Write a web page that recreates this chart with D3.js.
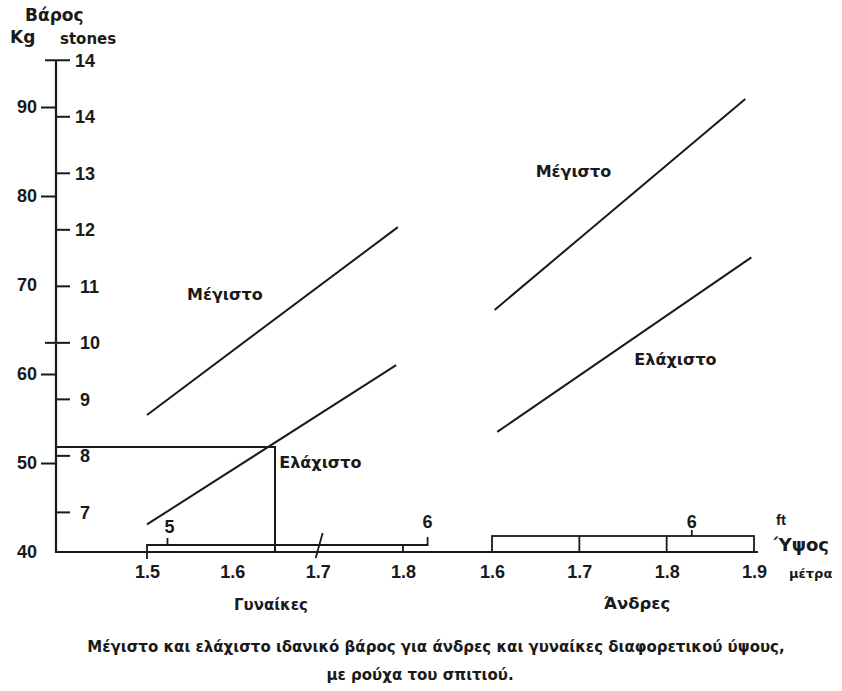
<!DOCTYPE html>
<html><head><meta charset="utf-8">
<script src="https://cdn.jsdelivr.net/npm/d3@7"></script>
<style>
body{margin:0;background:#fff;}
svg{display:block;}
text{fill:#1a1a1a;}
</style></head>
<body>
<script>
// ---- data ----
const kgTicks = [40, 50, 60, 70, 80, 90];
const kgTickMarks = [50, 60, 80, 90];
const stoneTicks = [7, 8, 9, 10, 11, 12, 13, 14, 15];
const stoneLabels = ["7", "8", "9", "10", "11", "12", "13", "14", "14"];
const womenHeightTicks = [1.5, 1.6, 1.7, 1.8];
const menHeightTicks = [1.6, 1.7, 1.8, 1.9];
const womenFeet = [5, 6];
const menFeet = [6];

const womenMaxH = [1.5, 1.794], womenMaxKg = [55.4, 76.5];
const womenMinH = [1.5, 1.792], womenMinKg = [43.1, 61.0];
const menMaxH = [1.603, 1.890], menMaxKg = [67.2, 90.9];
const menMinH = [1.606, 1.897], menMinKg = [53.5, 73.1];
const examplePoint = {h: 1.65, kg: 51.8};

const KG_PER_STONE = 6.35, M_PER_FT = 0.3048;

// ---- layout ----
const W = 842, H = 691;
const svg = d3.select("body").append("svg").attr("width", W).attr("height", H);
const y = d3.scaleLinear().domain([40, 90]).range([552, 107]);
const xW = d3.scaleLinear().domain([1.5, 1.8]).range([147, 403]);
const xM = d3.scaleLinear().domain([1.6, 1.9]).range([492, 754]);
const axisX = 56, baseY = y(40);
const ink = "#1a1a1a";
const numFont = "'Liberation Sans', Arial, sans-serif";
const grFont = "'DejaVu Sans', sans-serif";

// axis lines
svg.append("path")
  .attr("d", `M${axisX},${y(15 * KG_PER_STONE)}V${baseY}H${xM(1.9) + 4}`)
  .attr("fill", "none").attr("stroke", ink).attr("stroke-width", 2.2);

// kg axis (left)
const gKg = svg.append("g").attr("transform", `translate(${axisX},0)`)
  .call(d3.axisLeft(y).tickValues(kgTicks).tickSize(15).tickPadding(4).tickFormat(d3.format("d")));
gKg.select(".domain").remove();
gKg.selectAll(".tick line").attr("stroke", ink).attr("stroke-width", 2)
  .attr("display", d => kgTickMarks.includes(d) ? null : "none");
gKg.selectAll(".tick text").attr("font-family", numFont).attr("font-weight", "bold")
  .attr("font-size", 18).attr("fill", ink);

// stones axis (right of same line)
const yStone = d => y(d * KG_PER_STONE);
const gSt = svg.append("g").attr("transform", `translate(${axisX},0)`);
stoneTicks.forEach((s, i) => {
  const g = gSt.append("g").attr("transform", `translate(0,${yStone(s)})`);
  g.append("line").attr("x1", (s === 10 || s === 15) ? -11 : -1).attr("x2", 14)
    .attr("stroke", ink).attr("stroke-width", 2);
  g.append("text").attr("x", 17 + (i < 5 ? 7 : 2)).attr("dy", "0.36em")
    .attr("font-family", numFont).attr("font-weight", "bold").attr("font-size", 18)
    .attr("fill", ink).text(stoneLabels[i]);
});

// axis titles
const title = (x, yy, t, size, anchor = "start", fam = grFont) =>
  svg.append("text").attr("x", x).attr("y", yy).attr("font-family", fam)
    .attr("font-weight", "bold").attr("font-size", size).attr("text-anchor", anchor).text(t);
title(25, 21, "Βάρος", 17);
title(10, 43, "Kg", 17);
title(60, 44, "stones", 15);

// height axis labels
const gXW = svg.append("g").attr("transform", `translate(0,${baseY})`)
  .call(d3.axisBottom(xW).tickValues(womenHeightTicks).tickSize(0).tickPadding(13).tickFormat(d3.format(".1f")));
gXW.select(".domain").remove();
const gXM = svg.append("g").attr("transform", `translate(0,${baseY})`)
  .call(d3.axisBottom(xM).tickValues(menHeightTicks).tickSize(0).tickPadding(13).tickFormat(d3.format(".1f")));
gXM.select(".domain").remove();
[gXW, gXM].forEach(g => g.selectAll(".tick text")
  .attr("font-family", numFont).attr("font-weight", "bold").attr("font-size", 18).attr("fill", ink));

// women feet bracket
const bW = baseY - 7;
const wEnd = xW(womenFeet[1] * M_PER_FT);
svg.append("path").attr("d", `M${xW(1.5)},${baseY + 7}V${bW}H${wEnd}V${bW - 8}`)
  .attr("fill", "none").attr("stroke", ink).attr("stroke-width", 1.8);
svg.append("line").attr("x1", xW(womenFeet[0] * M_PER_FT)).attr("x2", xW(womenFeet[0] * M_PER_FT))
  .attr("y1", bW).attr("y2", bW - 7).attr("stroke", ink).attr("stroke-width", 1.8);
svg.append("line").attr("x1", xW(1.8)).attr("x2", xW(1.8)).attr("y1", bW).attr("y2", baseY)
  .attr("stroke", ink).attr("stroke-width", 1.8);
svg.append("line").attr("x1", xW(1.7) - 2).attr("x2", xW(1.7) + 5).attr("y1", baseY + 6).attr("y2", baseY - 19)
  .attr("stroke", ink).attr("stroke-width", 1.8);
womenFeet.forEach((f, i) => {
  svg.append("text").attr("x", xW(f * M_PER_FT) + (i ? 0 : 2)).attr("y", i ? 528 : 533)
    .attr("text-anchor", "middle").attr("font-family", numFont).attr("font-weight", "bold")
    .attr("font-size", 18).text(String(f));
});

// men feet box
const bM = baseY - 16;
svg.append("rect").attr("x", xM(1.6)).attr("y", bM).attr("width", xM(1.9) - xM(1.6)).attr("height", baseY - bM)
  .attr("fill", "none").attr("stroke", ink).attr("stroke-width", 1.8);
[1.7, 1.8].forEach(h => svg.append("line").attr("x1", xM(h)).attr("x2", xM(h)).attr("y1", bM).attr("y2", baseY)
  .attr("stroke", ink).attr("stroke-width", 1.8));
menFeet.forEach(f => {
  const xx = xM(f * M_PER_FT);
  svg.append("line").attr("x1", xx).attr("x2", xx).attr("y1", bM).attr("y2", bM - 6).attr("stroke", ink).attr("stroke-width", 1.8);
  svg.append("text").attr("x", xx).attr("y", 528).attr("text-anchor", "middle").attr("font-family", numFont)
    .attr("font-weight", "bold").attr("font-size", 18).text(String(f));
});

// units
title(776, 525, "ft", 15, "start", numFont);
title(774, 551, "Ύψος", 18);
title(789, 578, "μέτρα", 13);
title(271, 610, "Γυναίκες", 15, "middle");
title(637, 609, "Άνδρες", 16.5, "middle");

// lines
const drawLine = (xs, hs, kgs) => svg.append("path")
  .attr("d", d3.line().x((d, i) => xs(hs[i])).y(d => y(d))(kgs))
  .attr("fill", "none").attr("stroke", ink).attr("stroke-width", 2);
drawLine(xW, womenMaxH, womenMaxKg);
drawLine(xW, womenMinH, womenMinKg);
drawLine(xM, menMaxH, menMaxKg);
drawLine(xM, menMinH, menMinKg);

// example reading
svg.append("path").attr("d", `M${axisX},${y(examplePoint.kg)}H${xW(examplePoint.h)}V${baseY}`)
  .attr("fill", "none").attr("stroke", ink).attr("stroke-width", 2);

// line labels
title(xW(1.547), y(68.3), "Μέγιστο", 16);
title(xW(1.655), y(49.4), "Ελάχιστο", 16);
title(xM(1.65), y(82.1), "Μέγιστο", 16);
title(xM(1.763), y(61.0), "Ελάχιστο", 16);

// caption
title(436, 652, "Μέγιστο και ελάχιστο ιδανικό βάρος για άνδρες και γυναίκες διαφορετικού ύψους,", 15, "middle");
title(420, 680, "με ρούχα του σπιτιού.", 15, "middle");
</script>
</body></html>
